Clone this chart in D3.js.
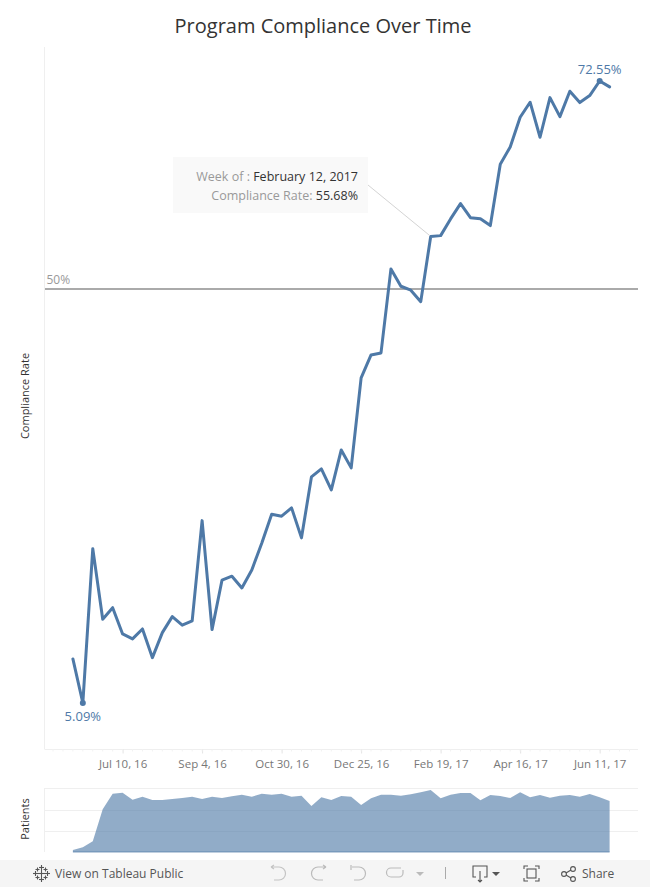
<!DOCTYPE html>
<html><head><meta charset="utf-8">
<script src="https://cdn.jsdelivr.net/npm/d3@7/dist/d3.min.js"></script>
<style>html,body{margin:0;padding:0;background:#fff}svg{display:block}text{font-family:"Open Sans",sans-serif}</style>
</head><body><svg id="c" width="650" height="887"></svg>
<script>
const firstWeek = "2016-06-05";
const complianceRate = [9.87,5.09,21.83,14.18,15.43,12.58,12.04,13.12,10.01,12.72,14.46,13.53,14.0,24.87,13.05,18.41,18.84,17.57,19.52,22.42,25.56,25.35,26.25,23.0,29.61,30.48,28.2,32.54,30.59,40.35,42.84,43.06,52.17,50.29,49.86,48.62,55.68,55.78,57.59,59.25,57.73,57.62,56.87,63.52,65.4,68.62,70.25,66.45,70.75,68.69,71.44,70.21,70.97,72.55,71.91];
const patients = [1.9,4.4,10.1,40.3,55,55.9,49.3,52.2,49.1,49.1,50,50.9,52.2,50,52.2,50.9,52.5,54.1,52.2,55,54.1,55,52.2,53.1,43.4,51.6,49.1,52.8,52.2,44.3,50.7,54.1,54.1,53.1,54.4,56.3,58.5,50.7,54.1,55.7,55.7,48.8,53.8,52.8,50.9,56.3,51.6,53.8,51.2,53.1,53.8,52.2,54.7,51.6,48.1];
const tickDates = ["2016-07-10","2016-09-04","2016-10-30","2016-12-25","2017-02-19","2017-04-16","2017-06-11"];
const patientTicks = [20,40,60];
const title = "Program Compliance Over Time";

const pd = d3.timeParse("%Y-%m-%d");
const fmt = d3.timeFormat("%b %-d, %y");
const start = pd(firstWeek);
const dates = complianceRate.map((_, i) => d3.timeDay.offset(start, i * 7));
const svg = d3.select("#c");
const blue = "#4e79a7";

const x = d3.scaleTime()
  .domain([d3.timeDay.offset(start, -20), d3.timeDay.offset(dates[dates.length-1], 20)])
  .range([44.5, 638]);
const y = d3.scaleLinear().domain([5.09, 72.55]).range([703, 81]);
const yP = d3.scaleLinear().domain([0, 60]).range([852, 788.4]);

svg.append("text").attr("x", 323).attr("y", 33).attr("text-anchor", "middle")
  .attr("font-size", 20).attr("fill", "#333").text(title);

// axis frame
svg.append("line").attr("x1", 44.5).attr("x2", 44.5).attr("y1", 47).attr("y2", 749).attr("stroke", "#efefef");
svg.append("line").attr("x1", 44.5).attr("x2", 638).attr("y1", 749.5).attr("y2", 749.5).attr("stroke", "#efefef");

// x axis
const axis = d3.axisBottom(x).tickValues(tickDates.map(pd)).tickFormat(fmt).tickSize(4).tickPadding(6);
const gx = svg.append("g").attr("transform", "translate(0,749.5)").call(axis);
gx.select(".domain").remove();
gx.selectAll("line").attr("stroke", "#e4e4e4");
gx.selectAll("text").attr("fill", "#777").attr("font-size", 11.5).style("font-family", '"Open Sans",sans-serif');

// minor ticks
svg.append("g").selectAll("line").data(d3.timeWeek.range(x.domain()[0], x.domain()[1]))
  .join("line").attr("x1", d => x(d)).attr("x2", d => x(d)).attr("y1", 749.5).attr("y2", 751.5).attr("stroke", "#f2f2f2");

// 50% reference line
svg.append("line").attr("x1", 45).attr("x2", 638).attr("y1", y(50)).attr("y2", y(50)).attr("stroke", "#aaa").attr("stroke-width", 2);
svg.append("text").attr("x", 46.5).attr("y", y(50) - 5).attr("font-size", 12).attr("fill", "#999").text("50%");

// line
const line = d3.line().x((d, i) => x(dates[i])).y(d => y(d));
svg.append("path").datum(complianceRate).attr("d", line).attr("fill", "none").attr("stroke", blue)
  .attr("stroke-width", 3).attr("stroke-linejoin", "round").attr("stroke-linecap", "round");

const iMin = complianceRate.indexOf(d3.min(complianceRate));
const iMax = complianceRate.indexOf(d3.max(complianceRate));
[iMin, iMax].forEach(i => svg.append("circle").attr("cx", x(dates[i])).attr("cy", y(complianceRate[i])).attr("r", 3).attr("fill", blue));
svg.append("text").attr("x", x(dates[iMin])).attr("y", y(complianceRate[iMin]) + 18).attr("text-anchor", "middle")
  .attr("font-size", 13).attr("fill", blue).text(complianceRate[iMin].toFixed(2) + "%");
svg.append("text").attr("x", x(dates[iMax])).attr("y", y(complianceRate[iMax]) - 7).attr("text-anchor", "middle")
  .attr("font-size", 13).attr("fill", blue).text(complianceRate[iMax].toFixed(2) + "%");

// annotation
const iA = 36;
svg.append("line").attr("x1", 368).attr("y1", 185).attr("x2", x(dates[iA]) - 1).attr("y2", y(complianceRate[iA]) - 1).attr("stroke", "#d4d4d4");
svg.append("rect").attr("x", 173).attr("y", 157).attr("width", 195).attr("height", 56).attr("fill", "#f9f9f9");
const t1 = svg.append("text").attr("x", 358).attr("y", 181).attr("text-anchor", "end").attr("font-size", 12.5);
t1.append("tspan").attr("fill", "#999").text("Week of : ");
t1.append("tspan").attr("fill", "#333").attr("font-weight", 500).text(d3.timeFormat("%B %-d, %Y")(dates[iA]));
const t2 = svg.append("text").attr("x", 358).attr("y", 200).attr("text-anchor", "end").attr("font-size", 12.5);
t2.append("tspan").attr("fill", "#999").text("Compliance Rate: ");
t2.append("tspan").attr("fill", "#333").attr("font-weight", 500).text(complianceRate[iA].toFixed(2) + "%");

// axis titles
svg.append("text").attr("transform", "translate(29,396) rotate(-90)").attr("text-anchor", "middle").attr("font-size", 11).attr("fill", "#333").text("Compliance Rate");
svg.append("text").attr("transform", "translate(29,819) rotate(-90)").attr("text-anchor", "middle").attr("font-size", 11).attr("fill", "#333").text("Patients");

// patients panel
svg.append("line").attr("x1", 44.5).attr("x2", 44.5).attr("y1", 788).attr("y2", 852).attr("stroke", "#efefef");
svg.append("g").selectAll("line").data(patientTicks).join("line")
  .attr("x1", 45).attr("x2", 638).attr("y1", d => Math.round(yP(d)) + 0.5).attr("y2", d => Math.round(yP(d)) + 0.5).attr("stroke", "#efefef");
const area = d3.area().x((d, i) => x(dates[i])).y0(yP(0)).y1(d => yP(d));
svg.append("path").datum(patients).attr("d", area).attr("fill", blue).attr("fill-opacity", 0.62);
svg.append("line").attr("x1", x(dates[0])).attr("x2", x(dates[dates.length-1])).attr("y1", yP(0)).attr("y2", yP(0)).attr("stroke", blue).attr("stroke-opacity", .7);

// toolbar
const tb = svg.append("g");
tb.append("rect").attr("x", 0).attr("y", 860).attr("width", 650).attr("height", 27).attr("fill", "#f5f5f5");
tb.append("text").attr("x", 55).attr("y", 878).attr("font-size", 12).attr("fill", "#555").text("View on Tableau Public");
tb.append("text").attr("x", 582).attr("y", 878).attr("font-size", 12).attr("fill", "#555").text("Share");
// logo
const logo = tb.append("g").attr("transform", "translate(41.5,873.5)").attr("stroke", "#555").attr("stroke-width", 1.1);
[[0,0,4],[-6,0,2.5],[6,0,2.5],[0,-6,2.5],[0,6,2.5],[-4,-4,2],[4,-4,2],[-4,4,2],[4,4,2]].forEach(([a,b,s]) => {
  logo.append("line").attr("x1", a - s).attr("x2", a + s).attr("y1", b).attr("y2", b);
  logo.append("line").attr("x1", a).attr("x2", a).attr("y1", b - s).attr("y2", b + s);
});
const ic = tb.append("g").attr("fill", "none").attr("stroke", "#bbb").attr("stroke-width", 1.2);
ic.append("path").attr("d", "M271 867h8a6 6 0 0 1 0 13h-5M271 867l3-2M271 867l3 2").attr("stroke", "#c4c4c4");
ic.append("path").attr("d", "M326 867h-8a6 6 0 0 0 0 13h5M326 867l-3-2M326 867l-3 2");
ic.append("path").attr("d", "M351 865v5M352 867h7a6 6 0 0 1 0 13h-5");
ic.append("path").attr("d", "M401 868h-10a4 4 0 0 0 0 9h8a4 4 0 0 0 4-4v-3");
tb.append("path").attr("d", "M416 872h8l-4 4z").attr("fill", "#bbb");
tb.append("line").attr("x1", 445.5).attr("x2", 445.5).attr("y1", 867).attr("y2", 879).attr("stroke", "#aaa");
const ic2 = tb.append("g").attr("fill", "none").attr("stroke", "#555").attr("stroke-width", 1.1);
ic2.append("path").attr("d", "M476 877h-3v-11h14v11h-3M480 871v10M478 880l2 2 2-2");
tb.append("path").attr("d", "M492 872h8l-4 4z").attr("fill", "#555");
ic2.append("path").attr("d", "M524 869v-3h4M535 866h4v3M539 878v3h-4M528 881h-4v-3");
ic2.append("rect").attr("x", 527).attr("y", 869).attr("width", 9).attr("height", 9);
ic2.append("circle").attr("cx", 564).attr("cy", 874).attr("r", 2.4);
ic2.append("circle").attr("cx", 573).attr("cy", 869).attr("r", 2.4);
ic2.append("circle").attr("cx", 573).attr("cy", 879).attr("r", 2.4);
ic2.append("path").attr("d", "M566 873l5-3M566 875l5 3");
</script></body></html>
